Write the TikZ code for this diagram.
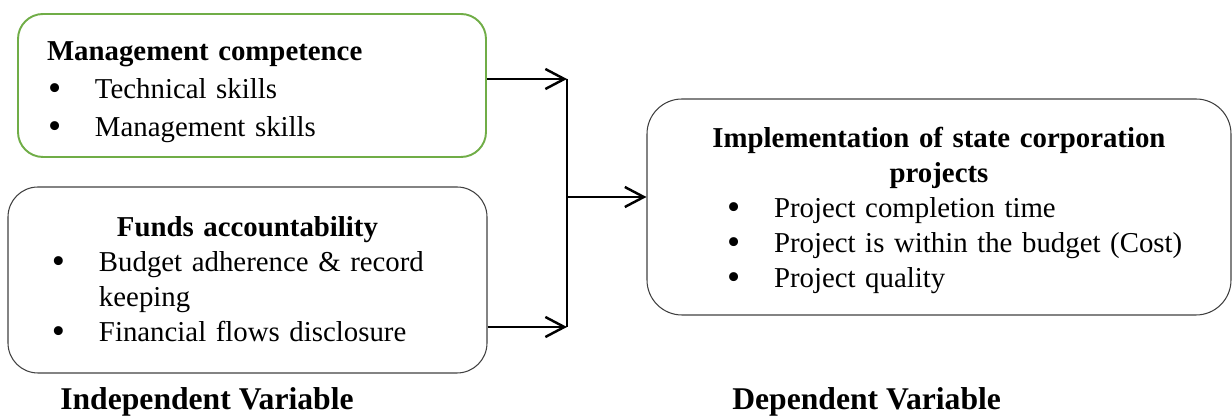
\documentclass[tikz,border=0pt]{standalone}
\usepackage{fontspec}
\usepackage{graphicx}
\setmainfont{Liberation Serif}
\usetikzlibrary{arrows.meta,calc}

\definecolor{mcgreen}{HTML}{70AD47}

% bullet line: #1 = bullet indent, #2 = text indent, #3 = text
\newcommand{\bul}[3]{\par\hangindent=#2\hangafter=1\noindent
  \makebox[#2][l]{\hspace*{#1}\raisebox{-0.07em}{\scalebox{1.3}{\textbullet}}}#3}

\tikzset{
  varbox/.style={draw=black!75, line width=0.6pt, inner sep=0pt, align=left,
    font=\fontsize{16.4}{19.9}\selectfont},
  varlabel/.style={anchor=base west, inner sep=0pt,
    font=\fontsize{18}{20}\selectfont\bfseries},
  link/.style={line width=1.4pt, -{Straight Barb[length=0.38cm,width=0.4cm]}}
}

\begin{document}
\begin{tikzpicture}
  \useasboundingbox (0,0) rectangle (24.64,8.32);

  % independent variables
  \node[varbox, draw=mcgreen, line width=1.1pt, rounded corners=0.5cm,
    font=\fontsize{16.4}{21.6}\selectfont,
    text width=9.36cm, minimum height=2.86cm] (mc) at (5.04,6.61) {%
    \hspace*{0.58cm}\rule{0pt}{0.64cm}\textbf{Management competence}
    \bul{0.6cm}{1.54cm}{Technical skills}
    \bul{0.6cm}{1.54cm}{Management skills}};

  \node[varbox, rounded corners=0.6cm, text width=9.58cm,
    minimum height=3.72cm] (fa) at (4.95,2.72) {%
    {\centering\textbf{Funds accountability}\par}
    \bul{0.88cm}{1.82cm}{Budget adherence \& record\newline keeping}
    \bul{0.88cm}{1.82cm}{Financial flows disclosure}};

  % dependent variable
  \node[varbox, rounded corners=0.7cm, text width=11.68cm,
    minimum height=4.32cm] (impl) at (18.78,4.18) {%
    {\centering\rule{0pt}{0.56cm}\textbf{Implementation of state corporation\\ projects}\par}
    \bul{1.6cm}{2.54cm}{Project completion time}
    \bul{1.6cm}{2.54cm}{Project is within the budget (Cost)}
    \bul{1.6cm}{2.54cm}{Project quality}};

  % connectors
  \coordinate (jtop) at (11.34,6.74);
  \coordinate (jmid) at (11.34,4.38);
  \coordinate (jbot) at (11.34,1.78);
  \draw[link] (mc.east |- jtop) -- (jtop);
  \draw[link] (fa.east |- jbot) -- (jbot);
  \draw[line width=0.6pt] (jtop) -- (jbot);
  \draw[link] (jmid) -- (impl.west |- jmid);

  \node[varlabel] (iv) at (1.2,0.12) {Independent Variable};
  \node[varlabel] (dv) at (14.64,0.12) {Dependent Variable};
\end{tikzpicture}
\end{document}
